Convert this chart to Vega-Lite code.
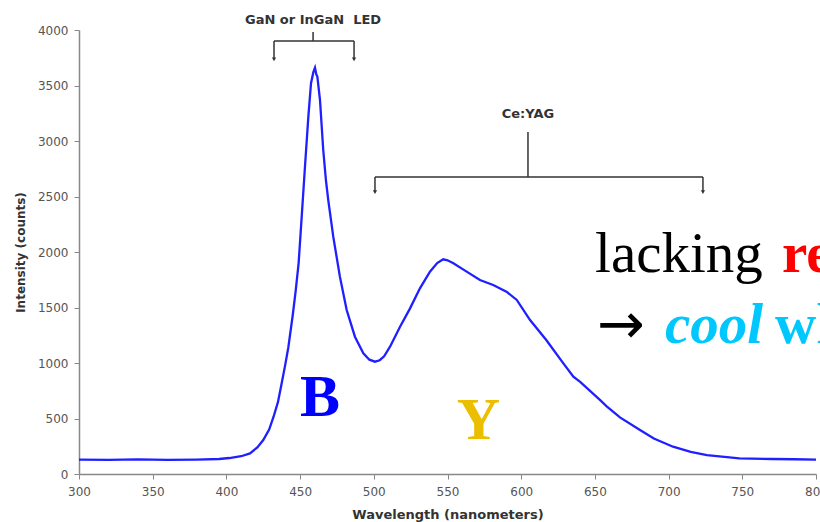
{
  "$schema": "https://vega.github.io/schema/vega-lite/v6.json",
  "width": 737,
  "height": 444,
  "autosize": {"type": "none"},
  "padding": {"left": 79, "top": 30, "right": 4, "bottom": 48},
  "background": "white",
  "config": {"view": {"stroke": null}},
  "datasets": {
    "spectrum": [
      {"nm": 300, "counts": 130}, {"nm": 320, "counts": 128}, {"nm": 340, "counts": 131}, {"nm": 360, "counts": 128},
      {"nm": 380, "counts": 130}, {"nm": 395, "counts": 135}, {"nm": 402, "counts": 144}, {"nm": 410, "counts": 160},
      {"nm": 416, "counts": 186}, {"nm": 421, "counts": 240}, {"nm": 425, "counts": 306}, {"nm": 429, "counts": 400},
      {"nm": 432, "counts": 516}, {"nm": 435, "counts": 650}, {"nm": 437.5, "counts": 817}, {"nm": 440, "counts": 990},
      {"nm": 442, "counts": 1140}, {"nm": 445, "counts": 1430}, {"nm": 447, "counts": 1650}, {"nm": 449, "counts": 1900},
      {"nm": 451, "counts": 2300}, {"nm": 453.3, "counts": 2768}, {"nm": 455.6, "counts": 3219}, {"nm": 457.4, "counts": 3520},
      {"nm": 459, "counts": 3620}, {"nm": 460.1, "counts": 3660}, {"nm": 461, "counts": 3600}, {"nm": 461.7, "counts": 3580},
      {"nm": 463.5, "counts": 3369}, {"nm": 465.7, "counts": 2919}, {"nm": 467.5, "counts": 2650}, {"nm": 469.1, "counts": 2468},
      {"nm": 472.5, "counts": 2138}, {"nm": 477, "counts": 1778}, {"nm": 481.6, "counts": 1477}, {"nm": 487.2, "counts": 1237},
      {"nm": 492.9, "counts": 1087}, {"nm": 497, "counts": 1030}, {"nm": 500.8, "counts": 1012}, {"nm": 504, "counts": 1025},
      {"nm": 507, "counts": 1060}, {"nm": 511, "counts": 1147}, {"nm": 517.8, "counts": 1327}, {"nm": 524.5, "counts": 1490},
      {"nm": 531.3, "counts": 1673}, {"nm": 538.1, "counts": 1823}, {"nm": 543, "counts": 1900}, {"nm": 547.1, "counts": 1934},
      {"nm": 550, "counts": 1925}, {"nm": 554, "counts": 1898}, {"nm": 563, "counts": 1823}, {"nm": 572, "counts": 1748},
      {"nm": 581, "counts": 1703}, {"nm": 590, "counts": 1643}, {"nm": 597, "counts": 1568}, {"nm": 606, "counts": 1387},
      {"nm": 617, "counts": 1207}, {"nm": 628.6, "counts": 997}, {"nm": 635.4, "counts": 877}, {"nm": 640, "counts": 830},
      {"nm": 653.4, "counts": 667}, {"nm": 658, "counts": 610}, {"nm": 667, "counts": 510}, {"nm": 680.6, "counts": 396},
      {"nm": 690, "counts": 320}, {"nm": 703, "counts": 246}, {"nm": 715, "counts": 200}, {"nm": 726, "counts": 171},
      {"nm": 748, "counts": 141}, {"nm": 770, "counts": 135}, {"nm": 785, "counts": 133}, {"nm": 800, "counts": 130}
    ],
    "brackets": [
      {"x": 458.8, "x2": 458.8, "y": 3900, "y2": 3982},
      {"x": 432.3, "x2": 486.6, "y": 3900, "y2": 3900},
      {"x": 432.3, "x2": 432.3, "y": 3900, "y2": 3740},
      {"x": 486.6, "x2": 486.6, "y": 3900, "y2": 3740},
      {"x": 604.6, "x2": 604.6, "y": 2676, "y2": 3081},
      {"x": 500.8, "x2": 723.3, "y": 2676, "y2": 2676},
      {"x": 500.8, "x2": 500.8, "y": 2676, "y2": 2545},
      {"x": 723.3, "x2": 723.3, "y": 2676, "y2": 2545}
    ],
    "arrowheads": [
      {"x": 432.3, "y": 3735}, {"x": 486.6, "y": 3735},
      {"x": 500.8, "y": 2540}, {"x": 723.3, "y": 2540}
    ],
    "annotations": [
      {"x": 458.8, "y": 4090, "label": "GaN or InGaN\u00a0 LED"},
      {"x": 604.6, "y": 3243, "label": "Ce:YAG"}
    ]
  },
  "layer": [
    {
      "data": {"name": "spectrum"},
      "mark": {"type": "line", "color": "#1f1fff", "strokeWidth": 2.3, "clip": false},
      "encoding": {
        "x": {"field": "nm", "type": "quantitative", "scale": {"domain": [300, 800], "nice": false, "zero": false},
          "axis": {"title": "Wavelength (nanometers)", "values": [300, 350, 400, 450, 500, 550, 600, 650, 700, 750, 800],
            "grid": false, "labelFont": "DejaVu Sans", "labelFontSize": 12, "labelColor": "#555", "tickColor": "#888",
            "domainColor": "#888", "domainWidth": 1.5, "tickSize": 5, "labelPadding": 7, "titleFont": "DejaVu Sans",
            "titleFontSize": 13, "titleFontWeight": "bold", "titleColor": "#333", "titlePadding": 11, "labelFlush": false}},
        "y": {"field": "counts", "type": "quantitative", "scale": {"domain": [0, 4000], "nice": false},
          "axis": {"title": "Intensity (counts)", "values": [0, 500, 1000, 1500, 2000, 2500, 3000, 3500, 4000], "format": "d",
            "grid": false, "labelFont": "DejaVu Sans", "labelFontSize": 12, "labelColor": "#555", "tickColor": "#888",
            "domainColor": "#888", "domainWidth": 1.5, "tickSize": 5, "labelPadding": 6, "titleFont": "DejaVu Sans",
            "titleFontSize": 12, "titleFontWeight": "bold", "titleColor": "#333", "titlePadding": 10}}
      }
    },
    {
      "data": {"name": "brackets"},
      "mark": {"type": "rule", "color": "#333", "strokeWidth": 1.5, "clip": false},
      "encoding": {
        "x": {"field": "x", "type": "quantitative"},
        "x2": {"field": "x2"},
        "y": {"field": "y", "type": "quantitative"},
        "y2": {"field": "y2"}
      }
    },
    {
      "data": {"name": "arrowheads"},
      "mark": {"type": "point", "shape": "triangle-down", "filled": true, "color": "#333", "size": 18, "opacity": 1, "clip": false},
      "encoding": {
        "x": {"field": "x", "type": "quantitative"},
        "y": {"field": "y", "type": "quantitative"}
      }
    },
    {
      "data": {"name": "annotations"},
      "mark": {"type": "text", "font": "DejaVu Sans", "fontSize": 13, "fontWeight": "bold", "color": "#333", "baseline": "middle", "align": "center", "clip": false},
      "encoding": {
        "x": {"field": "x", "type": "quantitative"},
        "y": {"field": "y", "type": "quantitative"},
        "text": {"field": "label"}
      }
    },
    {
      "data": {"values": [{"x": 463.5, "y": 522, "label": "B"}]},
      "mark": {"type": "text", "font": "Liberation Serif", "fontSize": 60, "fontWeight": "bold", "color": "#0000ff", "baseline": "alphabetic", "align": "center"},
      "encoding": {"x": {"field": "x", "type": "quantitative"}, "y": {"field": "y", "type": "quantitative"}, "text": {"field": "label"}}
    },
    {
      "data": {"values": [{"x": 571, "y": 315, "label": "Y"}]},
      "mark": {"type": "text", "font": "Liberation Serif", "fontSize": 60, "fontWeight": "bold", "color": "#ecbe00", "baseline": "alphabetic", "align": "center"},
      "encoding": {"x": {"field": "x", "type": "quantitative"}, "y": {"field": "y", "type": "quantitative"}, "text": {"field": "label"}}
    },
    {
      "data": {"values": [{"x": 650.1, "y": 1820, "label": "lacking"}]},
      "mark": {"type": "text", "font": "Liberation Serif", "fontSize": 57, "color": "#000", "baseline": "alphabetic", "align": "left", "clip": false},
      "encoding": {"x": {"field": "x", "type": "quantitative"}, "y": {"field": "y", "type": "quantitative"}, "text": {"field": "label"}}
    },
    {
      "data": {"values": [{"x": 776.9, "y": 1820, "label": "red"}]},
      "mark": {"type": "text", "font": "Liberation Serif", "fontSize": 57, "fontWeight": "bold", "color": "#ff0000", "baseline": "alphabetic", "align": "left", "clip": false},
      "encoding": {"x": {"field": "x", "type": "quantitative"}, "y": {"field": "y", "type": "quantitative"}, "text": {"field": "label"}}
    },
    {
      "data": {"values": [{"x": 651.4, "y": 1180, "label": "→"}]},
      "mark": {"type": "text", "font": "DejaVu Sans", "fontSize": 57, "color": "#000", "baseline": "alphabetic", "align": "left", "clip": false},
      "encoding": {"x": {"field": "x", "type": "quantitative"}, "y": {"field": "y", "type": "quantitative"}, "text": {"field": "label"}}
    },
    {
      "data": {"values": [{"x": 697.5, "y": 1180, "label": "cool"}]},
      "mark": {"type": "text", "font": "Liberation Serif", "fontSize": 57, "fontWeight": "bold", "fontStyle": "italic", "color": "#00c8ff", "baseline": "alphabetic", "align": "left", "clip": false},
      "encoding": {"x": {"field": "x", "type": "quantitative"}, "y": {"field": "y", "type": "quantitative"}, "text": {"field": "label"}}
    },
    {
      "data": {"values": [{"x": 772.2, "y": 1180, "label": "white"}]},
      "mark": {"type": "text", "font": "Liberation Serif", "fontSize": 57, "fontWeight": "bold", "color": "#00c8ff", "baseline": "alphabetic", "align": "left", "clip": false},
      "encoding": {"x": {"field": "x", "type": "quantitative"}, "y": {"field": "y", "type": "quantitative"}, "text": {"field": "label"}}
    }
  ]
}
